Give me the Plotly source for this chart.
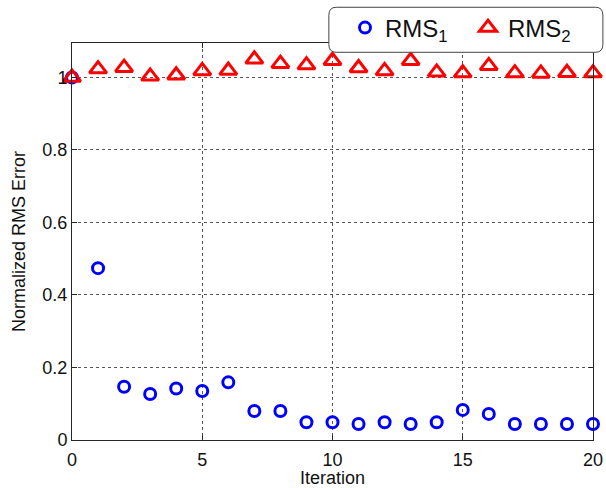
import plotly.graph_objects as go

iterations = list(range(21))
rms1 = [1.0, 0.474, 0.147, 0.127, 0.142, 0.135, 0.159, 0.080, 0.080, 0.049, 0.049,
        0.044, 0.049, 0.044, 0.049, 0.083, 0.072, 0.044, 0.044, 0.044, 0.044]
rms2 = [1.0, 1.023, 1.027, 1.003, 1.006, 1.018, 1.019, 1.050, 1.038, 1.034, 1.046,
        1.026, 1.018, 1.046, 1.014, 1.012, 1.032, 1.012, 1.011, 1.013, 1.012]
x_ticks = [0, 5, 10, 15, 20]
y_ticks = [0, 0.2, 0.4, 0.6, 0.8, 1]
y_tick_text = ["0", "0.2", "0.4", "0.6", "0.8", "1"]

FONT = "Liberation Sans, Arial, sans-serif"

fig = go.Figure()
fig.add_trace(go.Scatter(
    x=iterations, y=rms1, mode="markers", name="RMS<sub>1</sub>",
    marker=dict(symbol="circle-open", size=11, color="#0000ff", line=dict(width=3, color="#0000ff")),
    cliponaxis=False,
))
fig.add_trace(go.Scatter(
    x=iterations, y=rms2, mode="markers", name="RMS<sub>2</sub>",
    marker=dict(symbol="triangle-up-open", size=15, color="#ff0000", line=dict(width=3, color="#ff0000")),
    cliponaxis=False,
))

# rounded legend box
x0, x1, y0, y1 = 0.493, 1.019, 0.9766, 1.090
rx, ry = 0.014, 0.02
path = (f"M {x0+rx},{y0} L {x1-rx},{y0} Q {x1},{y0} {x1},{y0+ry} "
        f"L {x1},{y1-ry} Q {x1},{y1} {x1-rx},{y1} L {x0+rx},{y1} "
        f"Q {x0},{y1} {x0},{y1-ry} L {x0},{y0+ry} Q {x0},{y0} {x0+rx},{y0} Z")
fig.add_shape(type="path", path=path, xref="paper", yref="paper",
              fillcolor="white", line=dict(color="#444444", width=1), layer="above")

axis_common = dict(
    showline=True, linecolor="#262626", linewidth=1, mirror="ticks",
    ticks="inside", ticklen=5, tickcolor="#262626",
    showgrid=True, gridcolor="#555555", griddash="dot", gridwidth=1,
    zeroline=False,
    tickfont=dict(family=FONT, size=18, color="#111111"),
)

fig.update_xaxes(range=[0, 20], tickvals=x_ticks, ticklabelstandoff=3,
                 title=dict(text="Iteration", font=dict(family=FONT, size=18, color="#111111"), standoff=7),
                 **axis_common)
fig.update_yaxes(range=[0, 1.095], tickvals=y_ticks, ticktext=y_tick_text,
                 title=dict(text="Normalized RMS Error", font=dict(family=FONT, size=18, color="#111111"), standoff=12),
                 **axis_common)

fig.update_layout(
    width=606, height=488,
    margin=dict(l=72, r=13, t=43, b=48, autoexpand=False),
    paper_bgcolor="white", plot_bgcolor="white",
    showlegend=True,
    legend=dict(orientation="h", xref="container", yref="container",
                x=345 / 606, y=1 - 28 / 488, xanchor="left", yanchor="middle",
                bgcolor="rgba(0,0,0,0)", borderwidth=0,
                font=dict(family=FONT, size=24, color="#111111"),
                itemwidth=30, entrywidth=78),
)

fig.write_html("out.html")
